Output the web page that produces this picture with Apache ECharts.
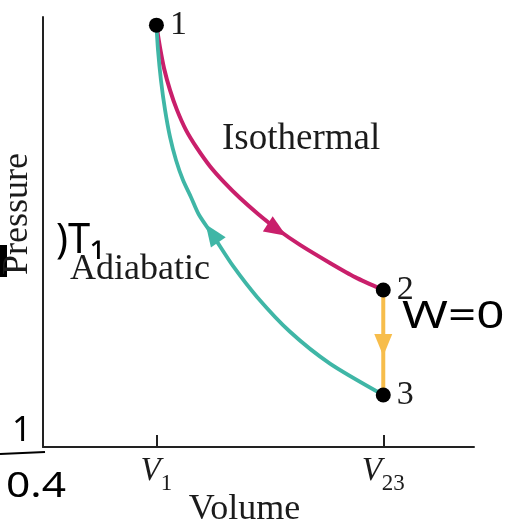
<!DOCTYPE html>
<html><head><meta charset="utf-8">
<script src="https://cdn.jsdelivr.net/npm/echarts@6/dist/echarts.min.js"></script>
<style>html,body{margin:0;padding:0;background:#fff}#c{width:509px;height:520px}</style>
</head><body><div id="c"></div>
<script>
// ---- data ----
const stateNames = ['1', '2', '3'];
const stateV = [1.00, 3.00, 3.00];
const stateP = [9.81, 3.65, 1.21];

const isoV = [1.00, 1.032, 1.067, 1.120, 1.181, 1.261, 1.358, 1.472, 1.596, 1.737, 1.896, 2.063, 2.266, 2.530, 2.751, 3.00];
const isoP = [9.81, 9.28, 8.81, 8.30, 7.84, 7.37, 6.95, 6.53, 6.16, 5.79, 5.42, 5.07, 4.70, 4.28, 3.95, 3.65];

const adiV = [1.00, 1.014, 1.040, 1.076, 1.120, 1.173, 1.234, 1.305, 1.375, 1.508, 1.675, 1.887, 2.178, 2.530, 3.00];
const adiP = [9.81, 9.23, 8.53, 7.84, 7.21, 6.67, 6.21, 5.81, 5.40, 4.88, 4.21, 3.49, 2.68, 1.94, 1.21];

const arrowV = [2.063, 1.490, 3.00];
const arrowP = [5.05, 4.97, 2.37];
const arrowAngle = [-123, 35, 180];

const tickValues = [1, 3];
const tickMain = ['V', 'V'];
const tickSub = ['1', '23'];

const curveNames = ['Isothermal', 'Adiabatic'];
const axisNames = ['Volume', 'Pressure'];
const notes = [')T\u2081', 'W=0', '1', '0.4'];

// ---- styles ----
const SERIF = '"Liberation Serif", "Times New Roman", serif';
const HAND = '"Noto Sans", "DejaVu Sans", sans-serif';
const INK = '#1b1b1b';
const cMag = '#C91F6B', cTeal = '#3FB6A6', cYel = '#F7BD4B';
const arrowColors = [cMag, cTeal, cYel];

const chart = echarts.init(document.getElementById('c'), null, {renderer: 'canvas'});

const zip = (a, b) => a.map((v, i) => [v, b[i]]);

chart.setOption({
  animation: false,
  backgroundColor: '#fff',
  grid: {left: 43, right: 35, top: 17, bottom: 73, containLabel: false, outerBoundsMode: 'none'},
  xAxis: {
    type: 'value', min: 0, max: 3.8,
    axisLine: {show: true, lineStyle: {color: '#222', width: 2}},
    axisTick: {show: true, inside: true, length: 12, customValues: tickValues,
               lineStyle: {color: '#222', width: 2}},
    axisLabel: {
      show: true, customValues: tickValues, margin: 14,
      formatter: function (v) {
        const i = tickValues.indexOf(v);
        return i < 0 ? '' : '{v|' + tickMain[i] + '}{s|' + tickSub[i] + '}';
      },
      rich: {
        v: {fontFamily: SERIF, fontStyle: 'italic', fontSize: 33, lineHeight: 33, color: INK, padding: [0, 0, 12, 0]},
        s: {fontFamily: SERIF, fontSize: 23, lineHeight: 23, color: INK, padding: [12, 0, 0, 0]}
      }
    },
    splitLine: {show: false},
    name: axisNames[0], nameLocation: 'middle', nameGap: 45, nameMoveOverlap: false,
    nameTextStyle: {fontFamily: SERIF, fontSize: 36, color: INK, padding: [0, 28, 0, 0]}
  },
  yAxis: {
    type: 'value', min: 0, max: 10,
    axisLine: {show: true, lineStyle: {color: '#222', width: 2}},
    axisTick: {show: false}, axisLabel: {show: false}, splitLine: {show: false},
    name: axisNames[1], nameLocation: 'middle', nameRotate: 90, nameGap: 7, nameMoveOverlap: false,
    nameTextStyle: {fontFamily: SERIF, fontSize: 36, color: INK, padding: [0, 0, 0, 36]}
  },
  series: [
    {type: 'line', name: curveNames[0], data: zip(isoV, isoP), smooth: 0.25, symbol: 'none',
     lineStyle: {color: cMag, width: 4}, z: 2},
    {type: 'line', name: curveNames[1], data: zip(adiV, adiP), smooth: 0.25, symbol: 'none',
     lineStyle: {color: cTeal, width: 3.8}, z: 2},
    {type: 'line', name: 'isochoric', data: [[stateV[1], stateP[1]], [stateV[2], stateP[2]]],
     symbol: 'none', lineStyle: {color: cYel, width: 4}, z: 2},
    {type: 'scatter', name: 'arrows', symbol: 'triangle', symbolSize: [18, 22], z: 3,
     data: arrowV.map((v, i) => ({value: [v, arrowP[i]], symbolRotate: arrowAngle[i],
                                  itemStyle: {color: arrowColors[i], opacity: 1}}))},
    {type: 'scatter', name: 'states', symbol: 'circle', symbolSize: 15, z: 4,
     itemStyle: {color: '#000', opacity: 1},
     data: stateV.map((v, i) => ({name: stateNames[i], value: [v, stateP[i]]})),
     label: {show: true, position: 'right', distance: 6, formatter: '{b}', opacity: 1,
             fontFamily: SERIF, fontSize: 34, color: INK}}
  ],
  graphic: [
    {type: 'text', left: 222, top: 121, style: {text: curveNames[0], font: '37px ' + SERIF, fill: INK}},
    {type: 'text', left: 70, top: 252, style: {text: curveNames[1], font: '36px ' + SERIF, fill: INK}},
    {type: 'text', x: 56, y: 220, scaleX: 1.05, scaleY: 1.1, style: {text: notes[0], font: '38px ' + HAND, fill: '#000'}},
    {type: 'text', x: 402, y: 298, scaleX: 1.3, style: {text: notes[1], font: '38px ' + HAND, fill: '#000'}},
    {type: 'text', x: 12, y: 414, style: {text: notes[2], font: '34px ' + HAND, fill: '#000'}},
    {type: 'text', x: 6, y: 470, scaleX: 1.25, style: {text: notes[3], font: '34px ' + HAND, fill: '#000'}},
    {type: 'line', shape: {x1: 0, y1: 454, x2: 45, y2: 452}, style: {stroke: '#000', lineWidth: 2}},
    {type: 'rect', shape: {x: 0, y: 245, width: 7, height: 32}, style: {fill: '#000'}}
  ]
});
</script></body></html>
